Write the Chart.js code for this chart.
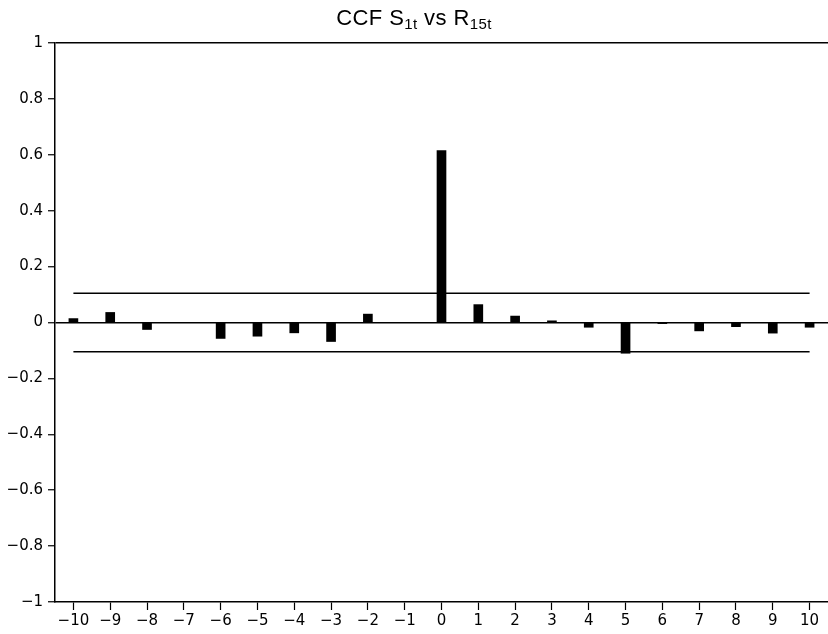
<!DOCTYPE html>
<html>
<head>
<meta charset="utf-8">
<script src="https://cdn.jsdelivr.net/npm/chart.js@4"></script>
<style>
  body { margin: 0; background: #fff; }
  #wrap { position: relative; width: 828px; height: 634px; }
  #titre { position: absolute; top: 5px; left: 0; width: 828px; text-align: center;
           font: 22px "Liberation Sans", Arial, sans-serif; letter-spacing: 0.4px; color: #000; }
  #titre sub { font-size: 15px; vertical-align: -4px; line-height: 0; }
</style>
</head>
<body>
<div id="wrap">
  <div id="titre">CCF S<sub>1t</sub> vs R<sub>15t</sub></div>
  <canvas id="graph" width="828" height="634"></canvas>
</div>
<script>
// lags of the cross-correlation
var lags = [-10, -9, -8, -7, -6, -5, -4, -3, -2, -1, 0, 1, 2, 3, 4, 5, 6, 7, 8, 9, 10];
// CCF values
var ccf = [0.014, 0.036, -0.025, 0, -0.057, -0.049, -0.037, -0.068, 0.030, 0,
           0.615, 0.064, 0.023, 0.006, -0.017, -0.110, -0.004, -0.030, -0.015, -0.038, -0.017];
// confidence band
var bande = 0.105;
var yTicks = [-1, -0.8, -0.6, -0.4, -0.2, 0, 0.2, 0.4, 0.6, 0.8, 1];

var labels = lags.map(String);
var premier = labels[0];
var dernier = labels[labels.length - 1];

function moins(v) {
  return String(v).replace("-", "\u2212");
}

var police = { family: "'DejaVu Sans', sans-serif", size: 15 };

var graph = new Chart(document.getElementById("graph"), {
  data: {
    labels: labels,
    datasets: [
      {
        type: "bar",
        data: ccf,
        backgroundColor: "#000",
        borderWidth: 0,
        barThickness: 9
      },
      {
        type: "line",
        data: [{ x: premier, y: bande }, { x: dernier, y: bande }],
        borderColor: "#000",
        borderWidth: 1.5,
        pointRadius: 0,
        fill: false
      },
      {
        type: "line",
        data: [{ x: premier, y: -bande }, { x: dernier, y: -bande }],
        borderColor: "#000",
        borderWidth: 1.5,
        pointRadius: 0,
        fill: false
      }
    ]
  },
  options: {
    responsive: false,
    animation: false,
    layout: { padding: { top: 43, right: 0, left: 0, bottom: 0 } },
    plugins: {
      legend: { display: false },
      title: { display: false },
      tooltip: { enabled: false }
    },
    scales: {
      x: {
        type: "category",
        offset: true,
        grid: {
          offset: false,
          drawOnChartArea: false,
          drawTicks: true,
          tickLength: 8,
          tickColor: "#000",
          tickWidth: 1.2
        },
        border: { color: "#000", width: 1.5 },
        ticks: {
          color: "#000",
          font: police,
          padding: 2,
          maxRotation: 0,
          autoSkip: false,
          callback: function (val, i) { return moins(labels[i]); }
        },
        afterFit: function (scale) { scale.height = 32; }
      },
      y: {
        min: -1,
        max: 1,
        afterBuildTicks: function (scale) {
          scale.ticks = yTicks.map(function (v) { return { value: v }; });
        },
        grid: {
          color: function (ctx) {
            var v = ctx.tick ? ctx.tick.value : null;
            return (v === 1 || v === 0) ? "#000" : "rgba(0,0,0,0)";
          },
          lineWidth: 1.5,
          tickLength: 7,
          tickColor: "#000",
          tickWidth: 1.2
        },
        border: { color: "#000", width: 1.5 },
        ticks: {
          color: "#000",
          font: police,
          padding: 5,
          callback: function (v) { return moins(Math.round(v * 10) / 10); }
        },
        afterFit: function (scale) { scale.width = 55; }
      }
    }
  }
});
</script>
</body>
</html>
